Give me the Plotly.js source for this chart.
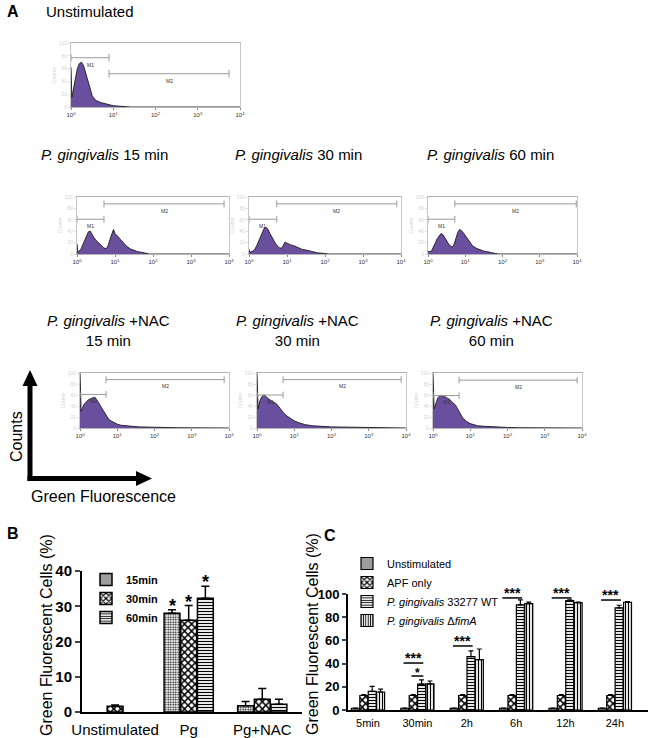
<!DOCTYPE html>
<html><head><meta charset="utf-8">
<script src="https://cdn.plot.ly/plotly-3.0.1.min.js"></script>
<style>html,body{margin:0;padding:0;background:#fff}#chart{width:650px;height:738px}</style>
</head><body><div id="chart"></div>
<script>
// ===== Panel A: flow cytometry histograms (x = log10 green fluorescence, y = counts) =====
const histTitles = ['Unstimulated',
  '<i>P. gingivalis</i> 15 min', '<i>P. gingivalis</i> 30 min', '<i>P. gingivalis</i> 60 min',
  '<i>P. gingivalis</i> +NAC<br>15 min', '<i>P. gingivalis</i> +NAC<br>30 min', '<i>P. gingivalis</i> +NAC<br>60 min'];
const decadeLabels = ['10<sup>0</sup>', '10<sup>1</sup>', '10<sup>2</sup>', '10<sup>3</sup>', '10<sup>4</sup>'];
const countTicks = [0, 20, 40, 60, 80, 100];

const unstimX = [0, 0.02, 0.05, 0.1, 0.15, 0.2, 0.25, 0.3, 0.35, 0.4, 0.45, 0.5, 0.55, 0.6, 0.7, 0.8, 0.9, 1.0, 1.1, 1.2, 1.3, 1.4, 4];
const unstimY = [62, 15, 25, 45, 60, 68, 70, 64, 52, 38, 27, 18, 13, 10, 7, 5, 3, 2, 1.5, 1, 0.5, 0, 0];

const pg15X = [0, 0.02, 0.1, 0.15, 0.2, 0.25, 0.3, 0.35, 0.4, 0.45, 0.5, 0.55, 0.6, 0.65, 0.7, 0.77, 0.82, 0.87, 0.92, 0.96, 1.0, 1.05, 1.1, 1.15, 1.2, 1.3, 1.4, 1.5, 1.6, 1.7, 1.8, 1.9, 4];
const pg15Y = [18, 3, 8, 15, 24, 32, 39, 40, 33, 28, 24, 21, 18, 14, 11, 9, 15, 26, 38, 43, 36, 33, 29, 25, 21, 14, 9, 6, 4, 3, 1, 0, 0];

const pg30X = [0, 0.02, 0.1, 0.15, 0.2, 0.25, 0.3, 0.35, 0.4, 0.45, 0.5, 0.55, 0.6, 0.65, 0.7, 0.75, 0.8, 0.86, 0.9, 0.95, 1.0, 1.05, 1.1, 1.2, 1.3, 1.4, 1.5, 1.6, 1.7, 1.8, 1.9, 2.0, 2.1, 4];
const pg30Y = [8, 3, 5, 8, 14, 22, 32, 40, 45, 47, 43, 36, 29, 23, 18, 14, 11, 10, 16, 21, 19, 17, 16, 14, 11, 8, 7, 5, 4, 2, 1.5, 1, 0, 0];

const pg60X = [0, 0.05, 0.1, 0.15, 0.2, 0.25, 0.3, 0.35, 0.4, 0.45, 0.5, 0.55, 0.6, 0.65, 0.7, 0.75, 0.8, 0.85, 0.9, 0.95, 1.0, 1.05, 1.1, 1.2, 1.3, 1.4, 1.5, 1.6, 1.7, 1.8, 1.9, 4];
const pg60Y = [5, 4, 6, 12, 20, 27, 32, 36, 34, 28, 22, 18, 14, 12, 17, 28, 38, 43, 41, 37, 32, 27, 22, 14, 10, 7, 5, 4, 2, 1, 0, 0];

const nac15X = [0, 0.03, 0.1, 0.15, 0.2, 0.25, 0.3, 0.35, 0.4, 0.45, 0.5, 0.55, 0.6, 0.65, 0.7, 0.75, 0.8, 0.9, 1.0, 1.1, 1.2, 1.4, 1.6, 1.8, 2.0, 2.3, 2.6, 3.0, 3.5, 4];
const nac15Y = [100, 30, 42, 47, 50, 52, 54, 55, 56, 52, 46, 40, 34, 28, 22, 18, 14, 10, 7, 5, 4, 3, 2, 1.5, 1, 0.8, 0.5, 0.3, 0, 0];

const nac30X = [0, 0.03, 0.08, 0.13, 0.18, 0.22, 0.27, 0.32, 0.37, 0.42, 0.47, 0.52, 0.57, 0.62, 0.67, 0.72, 0.8, 0.9, 1.0, 1.1, 1.2, 1.3, 1.5, 1.7, 2.0, 2.5, 3.0, 3.5, 4];
const nac30Y = [100, 35, 50, 57, 60, 59, 55, 52, 50, 48, 46, 44, 40, 35, 30, 27, 22, 17, 13, 10, 8, 6, 4, 3, 2, 1.5, 1, 0.5, 0];

const nac60X = [0, 0.03, 0.08, 0.13, 0.18, 0.22, 0.27, 0.31, 0.36, 0.41, 0.45, 0.5, 0.55, 0.6, 0.65, 0.7, 0.75, 0.8, 0.9, 1.0, 1.1, 1.2, 1.4, 1.6, 1.8, 2.0, 2.3, 3.0, 4];
const nac60Y = [100, 35, 45, 55, 58, 60, 56, 58, 55, 53, 52, 48, 45, 42, 36, 29, 22, 18, 12, 8, 6, 4, 3, 2, 1.5, 1, 0.5, 0, 0];

// Marker gates M1 / M2 (log10 fluorescence, counts level)
const gateM1End = [0.9, 0.71, 0.73, 0.72, 0.7, 0.7, 0.7];
const gateM2End = [3.74, 3.87, 3.89, 3.98, 3.87, 3.87, 3.87];
const gateM1Y = [77, 61, 61, 61, 61, 60, 59];
const gateM2Y = [52, 88, 88, 88, 88, 88, 87];

// ===== Panel B =====
const bCategories = ['Unstimulated', 'Pg', 'Pg+NAC'];
const bSeries = ['15min', '30min', '60min'];
const b15 = [null, 28.0, 1.8];
const b15Err = [null, 1.0, 1.2];
const b30 = [1.6, 26.0, 3.6];
const b30Err = [0.4, 4.2, 3.1];
const b60 = [null, 32.3, 2.2];
const b60Err = [null, 3.4, 1.4];
const b15Star = ['', '*', ''];
const b30Star = ['', '*', ''];
const b60Star = ['', '*', ''];

// ===== Panel C =====
const cCategories = ['5min', '30min', '2h', '6h', '12h', '24h'];
const cSeries = ['Unstimulated', 'APF only', '<i>P. gingivalis</i> 33277 WT', '<i>P. gingivalis</i> Δ<i>fimA</i>'];
const cUnstim = [1.5, 1.5, 1.5, 1.5, 1.5, 1.5];
const cUnstimErr = [0.2, 0.2, 0.2, 0.2, 0.2, 0.2];
const cAPF = [12.5, 12.5, 12.5, 12.5, 12.5, 12.5];
const cAPFErr = [0.8, 0.8, 0.8, 0.8, 0.8, 0.8];
const cWT = [16.0, 22.3, 46.0, 90.6, 94.3, 88.0];
const cWTErr = [4.3, 3.7, 5.0, 4.4, 0.6, 2.3];
const cFim = [15.5, 22.6, 43.4, 91.7, 92.6, 92.9];
const cFimErr = [2.5, 2.4, 9.2, 1.3, 0.5, 0.5];
const cSig3 = ['', '***', '***', '***', '***', '***'];
const cSig3Y = [null, 40.5, 55.2, 96.6, 96.6, 94.8];
const cSig1 = ['', '*', '', '', '', ''];
const cSig1Y = [null, 29.3, null, null, null, null];

// ===== layout helpers =====
const W = 650, H = 738;
const px = v => v / W;
const py = v => 1 - v / H;
const FONT = 'Liberation Sans, Arial, Helvetica, sans-serif';

const histX = [unstimX, pg15X, pg30X, pg60X, nac15X, nac30X, nac60X];
const histY = [unstimY, pg15Y, pg30Y, pg60Y, nac15Y, nac30Y, nac60Y];
// plot boxes [left, right, top, bottom] in px
const histBoxes = [
  [71, 240, 43, 107],
  [77, 229, 197, 254], [249, 401, 197, 254], [428, 577, 197, 254],
  [80, 229, 373, 428], [257, 406, 373, 428], [433, 582, 373, 428]
];
const titlePos = [[44, 12, 'left'], [104, 155], [298, 155], [490, 155], [108, 330], [297, 330], [491, 330]];

const data = [];
const layout = {
  width: W, height: H,
  margin: {l: 0, r: 0, t: 0, b: 0},
  paper_bgcolor: '#fff', plot_bgcolor: 'rgba(0,0,0,0)',
  font: {family: FONT, color: '#000'},
  showlegend: true,
  barmode: 'group', bargap: 0.32, bargroupgap: 0.05,
  shapes: [], annotations: []
};
const note = o => layout.annotations.push(Object.assign({showarrow: false, xanchor: 'center', yanchor: 'middle'}, o));

for (let i = 0; i < 7; i++) {
  const xa = i === 0 ? 'x' : 'x' + (i + 1);
  const ya = i === 0 ? 'y' : 'y' + (i + 1);
  const b = histBoxes[i];
  data.push({
    type: 'scatter', mode: 'lines', x: histX[i], y: histY[i],
    xaxis: xa, yaxis: ya, fill: 'tozeroy', fillcolor: '#6b4f9f',
    line: {color: '#1a1a1a', width: 0.9}, showlegend: false, hoverinfo: 'skip'
  });
  layout[i === 0 ? 'xaxis' : 'xaxis' + (i + 1)] = {
    domain: [px(b[0]), px(b[1])], range: [0, 4], anchor: ya,
    tickvals: [0, 1, 2, 3, 4], ticktext: decadeLabels,
    tickfont: {size: 6, color: '#333'}, ticks: 'outside', ticklen: 2, tickcolor: '#888',
    showline: true, linecolor: '#b5b5b5', linewidth: 1, mirror: true,
    showgrid: false, zeroline: false, fixedrange: true
  };
  layout[i === 0 ? 'yaxis' : 'yaxis' + (i + 1)] = {
    domain: [py(b[3]), py(b[2])], range: [0, 100], anchor: xa,
    tickvals: countTicks, tickfont: {size: 5, color: '#d4d4d4'},
    ticks: 'outside', ticklen: 2, tickcolor: '#ddd',
    showline: true, linecolor: '#c8c8c8', linewidth: 1, mirror: true,
    showgrid: false, zeroline: false, fixedrange: true,
    title: {text: 'Counts', font: {size: 5, color: '#d4d4d4'}, standoff: 1}
  };
  // gates
  const gs = {xref: xa, yref: ya, type: 'line', line: {color: '#9a9a9a', width: 1}};
  const segs = [[0, gateM1End[i], gateM1Y[i], 'M1'], [gateM1End[i], gateM2End[i], gateM2Y[i], 'M2']];
  segs.forEach(s => {
    layout.shapes.push(Object.assign({}, gs, {x0: s[0], x1: s[1], y0: s[2], y1: s[2]}));
    layout.shapes.push(Object.assign({}, gs, {x0: s[0], x1: s[0], y0: s[2] - 6, y1: s[2] + 6}));
    layout.shapes.push(Object.assign({}, gs, {x0: s[1], x1: s[1], y0: s[2] - 6, y1: s[2] + 6}));
    note({xref: xa, yref: ya, x: (s[0] + s[1]) / 2, y: s[2] - 3, yanchor: 'top', text: s[3],
      font: {size: 5, color: '#333'}});
  });
  // title
  const t = titlePos[i];
  note({xref: 'paper', yref: 'paper', x: px(t[0]), y: py(t[1]), xanchor: t[2] || 'center',
    text: histTitles[i], font: {size: 15, color: '#000'}, align: 'center'});
}

// panel letters and axis cartoon
[['A', 5, 12], ['B', 5, 533], ['C', 322, 535]].forEach(l => note({
  xref: 'paper', yref: 'paper', x: px(l[1]), y: py(l[2]), xanchor: 'left',
  text: l[0], font: {size: 16, weight: 'bold', color: '#000'}}));
note({xref: 'paper', yref: 'paper', x: px(17), y: py(437), textangle: -90,
  text: 'Counts', font: {size: 16, color: '#000'}});
note({xref: 'paper', yref: 'paper', x: px(103), y: py(496),
  text: 'Green Fluorescence', font: {size: 16, color: '#000'}});
const blk = {xref: 'paper', yref: 'paper', line: {color: '#000', width: 5}};
layout.shapes.push(Object.assign({type: 'line', x0: px(30), x1: px(30), y0: py(481), y1: py(384)}, blk));
layout.shapes.push(Object.assign({type: 'line', x0: px(27.5), x1: px(138), y0: py(478.5), y1: py(478.5)}, blk));
layout.shapes.push({type: 'path', xref: 'paper', yref: 'paper', fillcolor: '#000', line: {width: 0},
  path: `M ${px(22.5)} ${py(386)} L ${px(37.5)} ${py(386)} L ${px(30)} ${py(370)} Z`});
layout.shapes.push({type: 'path', xref: 'paper', yref: 'paper', fillcolor: '#000', line: {width: 0},
  path: `M ${px(136)} ${py(471)} L ${px(136)} ${py(486)} L ${px(152)} ${py(478.5)} Z`});

// ===== Panel B bars =====
const patDots = {shape: '.', size: 2.5, solidity: 0.4, fgcolor: '#000', bgcolor: '#fff'};
const patCheck = {shape: 'x', size: 5, solidity: 0.5, fgcolor: '#000', bgcolor: '#fff'};
const patHoriz = {shape: '-', size: 3, solidity: 0.4, fgcolor: '#000', bgcolor: '#fff'};
const patVert = {shape: '|', size: 3, solidity: 0.4, fgcolor: '#000', bgcolor: '#fff'};

const bVals = [b15, b30, b60], bErrs = [b15Err, b30Err, b60Err], bPats = [patDots, patCheck, patHoriz];
const bStars = [b15Star, b30Star, b60Star];
for (let k = 0; k < 3; k++) {
  data.push({
    type: 'bar', name: bSeries[k], x: bCategories, y: bVals[k], xaxis: 'x8', yaxis: 'y8',
    legend: 'legend',
    marker: {color: '#fff', pattern: bPats[k], line: {color: '#000', width: 1.5}},
    error_y: {type: 'data', array: bErrs[k], arrayminus: bErrs[k].map(() => 0), symmetric: false,
      color: '#000', thickness: 1.5, width: 4}, hoverinfo: 'skip'
  });
  const off = (k - 1) * (1 - layout.bargap) / 3;
  bCategories.forEach((c, j) => {
    if (bStars[k][j]) note({xref: 'x8', yref: 'y8', x: j + off,
      y: bVals[k][j] + bErrs[k][j], yanchor: 'bottom', text: bStars[k][j], yshift: -8,
      font: {size: 18, weight: 'bold', color: '#000'}});
  });
}
layout.xaxis8 = {domain: [px(82), px(302)], anchor: 'y8', type: 'category', categoryarray: bCategories,
  range: [-0.45, 2.54], showline: true, linecolor: '#000', linewidth: 2, ticks: '', ticklabelstandoff: 3,
  tickfont: {size: 15, color: '#000'}, showgrid: false, zeroline: false, fixedrange: true};
layout.yaxis8 = {domain: [py(712), py(571)], anchor: 'x8', range: [0, 40], dtick: 10,
  showline: true, linecolor: '#000', linewidth: 2, ticks: 'outside', ticklen: 5, tickwidth: 2,
  tickfont: {size: 15, weight: 'bold', color: '#000'}, showgrid: false, zeroline: false, fixedrange: true};
note({xref: 'paper', yref: 'paper', x: px(46), y: py(635), textangle: -90,
  text: 'Green Fluorescent Cells (%)', font: {size: 16, color: '#000'}});
layout.legend = {x: px(86), y: py(565), xanchor: 'left', yanchor: 'top', bgcolor: 'rgba(0,0,0,0)',
  font: {size: 11, weight: 'bold', color: '#000'}, itemwidth: 30};

// ===== Panel C bars =====
const cVals = [cUnstim, cAPF, cWT, cFim], cErrs = [cUnstimErr, cAPFErr, cWTErr, cFimErr];
const cPats = [patDots, patCheck, patHoriz, patVert];
for (let k = 0; k < 4; k++) {
  data.push({
    type: 'bar', name: cSeries[k], x: cCategories, y: cVals[k], xaxis: 'x9', yaxis: 'y9',
    legend: 'legend2',
    marker: {color: '#fff', pattern: cPats[k], line: {color: '#000', width: 1.2}},
    error_y: {type: 'data', array: cErrs[k], arrayminus: cErrs[k].map(() => 0), symmetric: false,
      color: '#000', thickness: 1.2, width: 2.5}, hoverinfo: 'skip'
  });
}
cCategories.forEach((c, j) => {
  // [labels, levels, x-start offset, x-end offset, font size, label shift]
  [[cSig3, cSig3Y, -0.28, 0.12, 14, -4], [cSig1, cSig1Y, -0.12, 0.12, 12, -5]].forEach(s => {
    if (!s[0][j]) return;
    layout.shapes.push({type: 'line', xref: 'x9', yref: 'y9', x0: j + s[2], x1: j + s[3],
      y0: s[1][j], y1: s[1][j], line: {color: '#000', width: 1.5}});
    note({xref: 'x9', yref: 'y9', x: j + (s[2] + s[3]) / 2, y: s[1][j],
      yanchor: 'bottom', text: s[0][j], yshift: s[5], borderpad: 0,
      font: {size: s[4], weight: 'bold', color: '#000'}});
  });
});
layout.xaxis9 = {domain: [px(348), px(648)], anchor: 'y9', type: 'category', categoryarray: cCategories,
  range: [-0.405, 5.67], showline: true, linecolor: '#000', linewidth: 2, ticks: '', ticklabelstandoff: 2,
  tickfont: {size: 11, color: '#000'}, showgrid: false, zeroline: false, fixedrange: true};
layout.yaxis9 = {domain: [py(710), py(594)], anchor: 'x9', range: [0, 100], dtick: 20,
  showline: true, linecolor: '#000', linewidth: 2, ticks: 'outside', ticklen: 4, tickwidth: 2,
  tickfont: {size: 13, weight: 'bold', color: '#000'}, showgrid: false, zeroline: false, fixedrange: true};
note({xref: 'paper', yref: 'paper', x: px(312), y: py(634), textangle: -90,
  text: 'Green Fluorescent Cells (%)', font: {size: 16, color: '#000'}});
layout.legend2 = {x: px(347), y: py(549), xanchor: 'left', yanchor: 'top', bgcolor: 'rgba(0,0,0,0)',
  font: {size: 11, color: '#000'}, itemwidth: 30};

Plotly.newPlot('chart', data, layout, {staticPlot: true, displayModeBar: false});
</script></body></html>
